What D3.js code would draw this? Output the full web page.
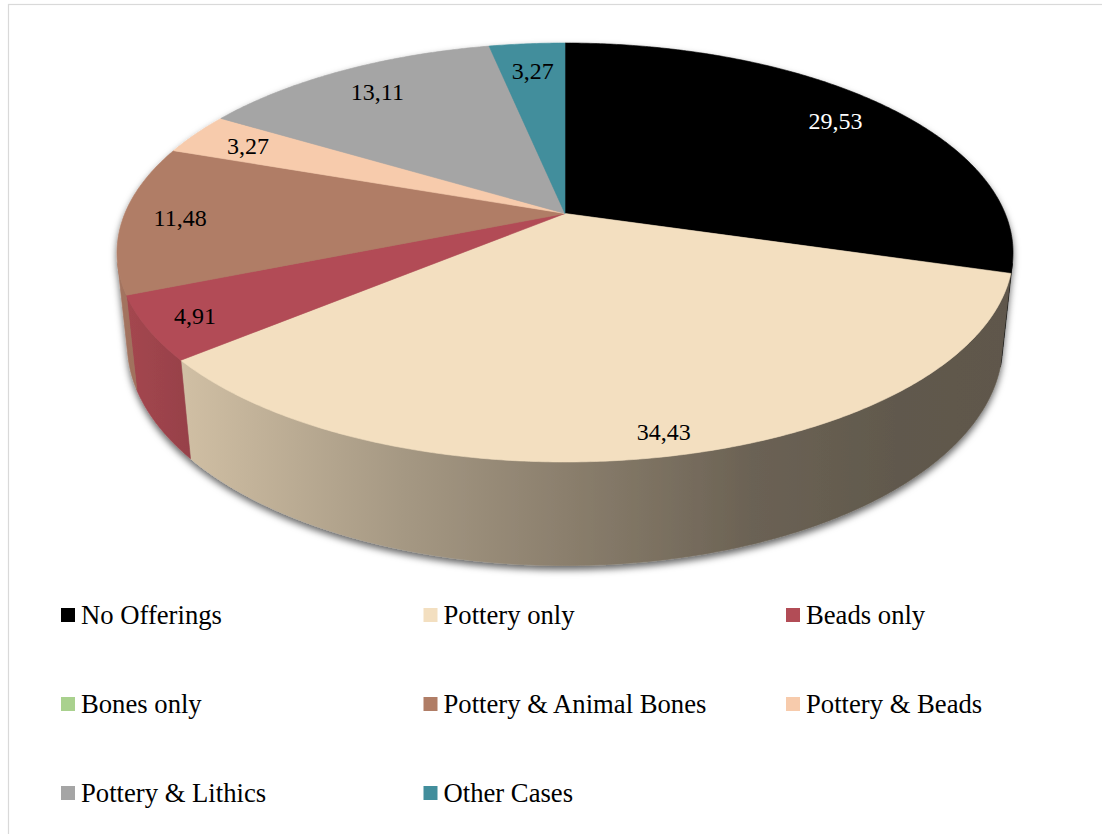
<!DOCTYPE html>
<html>
<head>
<meta charset="utf-8">
<script src="https://cdn.jsdelivr.net/npm/d3@7"></script>
<style>
  html, body { margin: 0; padding: 0; background: #ffffff; }
  svg { display: block; }
</style>
</head>
<body>
<script>
// Burial offerings, share of graves (%)
const categories = [
  "No Offerings", "Pottery only", "Beads only", "Bones only",
  "Pottery & Animal Bones", "Pottery & Beads", "Pottery & Lithics", "Other Cases"
];
const values = [29.53, 34.43, 4.91, 0, 11.48, 3.27, 13.11, 3.27];
const colors = [
  "#000000", "#F3DFC0", "#B24C56", "#A9D18E",
  "#B07D66", "#F7CBAC", "#A5A5A5", "#428E9C"
];

const W = 1102, H = 834;
const serif = "'Liberation Serif', 'Times New Roman', Times, 'DejaVu Serif', serif";

// Decimal comma, as in the source table
const fmt = d3.formatLocale({ decimal: ",", thousands: ".", grouping: [3], currency: ["", ""] }).format(".2f");

const svg = d3.select("body").append("svg")
  .attr("width", W).attr("height", H)
  .attr("viewBox", `0 0 ${W} ${H}`)
  .style("font-family", serif);

svg.append("rect").attr("width", W).attr("height", H).attr("fill", "#ffffff");

// Chart area frame
svg.append("rect")
  .attr("x", 8.5).attr("y", 4.5)
  .attr("width", 1300).attr("height", 1000)
  .attr("fill", "none").attr("stroke", "#D9D9D9").attr("stroke-width", 1.2);

// ---- 3D pie: perspective projection of a flat disc ----
const cx = 565, cy = 213.5;        // screen position of the disc centre
const sinE = 0.4594, cosE = Math.sqrt(1 - sinE * sinE); // camera elevation
const camDist = 4.771;             // camera distance (in disc radii)
const focal = 2100;                // focal length in px
const thick = 0.236;               // disc thickness (in disc radii)

// theta: clockwise from 12 o'clock, r: fraction of radius, z: height (0 = top face)
function project(theta, r, z) {
  const X = r * Math.sin(theta), Y = r * Math.cos(theta);
  const den = camDist + Y * cosE - z * sinE;
  return [cx + focal * X / den, cy - focal * (Y * sinE + z * cosE) / den];
}

function arcPoints(a0, a1, r, z) {
  const n = Math.max(2, Math.ceil(Math.abs(a1 - a0) / (Math.PI / 360)));
  return d3.range(n + 1).map(i => project(a0 + (a1 - a0) * i / n, r, z));
}

const pie = d3.pie().sort(null).value(d => d).startAngle(0).endAngle(2 * Math.PI);
const arcs = pie(values).map((a, i) => ({ ...a, i }));

// Outer wall faces the camera where cos(theta) < -1/(D cosE)
const visLimit = Math.acos(-1 / (camDist * cosE));
const visMin = visLimit, visMax = 2 * Math.PI - visLimit;

// Horizontal shading of the outer wall (lighter on the left)
const leftX = d3.min(d3.range(0, 2 * Math.PI, 0.002), t => project(t, 1, 0)[0]);
const rightX = d3.max(d3.range(0, 2 * Math.PI, 0.002), t => project(t, 1, 0)[0]);
const shadeX = d3.scaleLinear().domain([0, 1]).range([leftX, rightX]);
const shadeStops = [
  [0.00, 0.93], [0.08, 0.85], [0.32, 0.68], [0.50, 0.57],
  [0.71, 0.44], [0.87, 0.40], [1.00, 0.39]
];

const defs = svg.append("defs");

const shadow = defs.append("filter").attr("id", "pieShadow")
  .attr("x", "-10%").attr("y", "-10%").attr("width", "120%").attr("height", "130%");
shadow.append("feDropShadow")
  .attr("dx", 0).attr("dy", 4).attr("stdDeviation", 3.5)
  .attr("flood-color", "#000").attr("flood-opacity", 0.6);

arcs.forEach(a => {
  const g = defs.append("linearGradient")
    .attr("id", "wall" + a.i)
    .attr("gradientUnits", "userSpaceOnUse")
    .attr("x1", shadeX(0)).attr("x2", shadeX(1))
    .attr("y1", 0).attr("y2", 0);
  const base = d3.rgb(colors[a.i]);
  shadeStops.forEach(([o, k]) => {
    g.append("stop")
      .attr("offset", o)
      .attr("stop-color", d3.rgb(base.r * k, base.g * k, base.b * k).formatHex());
  });
});

const pieG = svg.append("g").attr("filter", "url(#pieShadow)");
const line = d3.line();

// Outer walls (front half only)
arcs.filter(a => a.value > 0).forEach(a => {
  const a0 = Math.max(a.startAngle, visMin), a1 = Math.min(a.endAngle, visMax);
  if (a1 <= a0) return;
  const top = arcPoints(a0, a1, 1, 0);
  const bottom = arcPoints(a1, a0, 1, -thick);
  pieG.append("path")
    .attr("d", line(top.concat(bottom)) + "Z")
    .attr("fill", `url(#wall${a.i})`)
    .attr("stroke", `url(#wall${a.i})`)
    .attr("stroke-width", 0.6)
    .attr("stroke-linejoin", "round");
});

// Top faces
arcs.filter(a => a.value > 0).forEach(a => {
  const pts = [project(0, 0, 0)].concat(arcPoints(a.startAngle, a.endAngle, 1, 0));
  pieG.append("path")
    .attr("d", line(pts) + "Z")
    .attr("fill", colors[a.i])
    .attr("stroke", colors[a.i])
    .attr("stroke-width", 0.6)
    .attr("stroke-linejoin", "round");
});

// Data labels
arcs.filter(a => a.value > 0).forEach(a => {
  const mid = (a.startAngle + a.endAngle) / 2;
  const r = 0.87 - 0.05 * Math.cos(mid);
  const [lx, ly] = project(mid, r, 0);
  const lum = d3.hsl(colors[a.i]).l;
  svg.append("text")
    .attr("x", lx).attr("y", ly)
    .attr("dy", "0.35em")
    .attr("text-anchor", "middle")
    .attr("font-family", serif)
    .attr("font-size", 24)
    .attr("fill", lum < 0.35 ? "#ffffff" : "#000000")
    .text(fmt(a.value));
});

// Legend: three columns
const legendCols = 3;
const colX = d3.scaleLinear().domain([0, 1]).range([61, 423.5]);
const rowY = d3.scaleLinear().domain([0, 1]).range([624, 713]);
const legend = svg.append("g");
categories.forEach((name, i) => {
  const col = i % legendCols, row = Math.floor(i / legendCols);
  const x = colX(col), y = rowY(row);
  legend.append("rect")
    .attr("x", x).attr("y", y - 16)
    .attr("width", 14).attr("height", 14)
    .attr("fill", colors[i]);
  legend.append("text")
    .attr("x", x + 20).attr("y", y)
    .attr("font-family", serif)
    .attr("font-size", 26.67)
    .attr("fill", "#000")
    .text(name);
});
</script>
</body>
</html>
